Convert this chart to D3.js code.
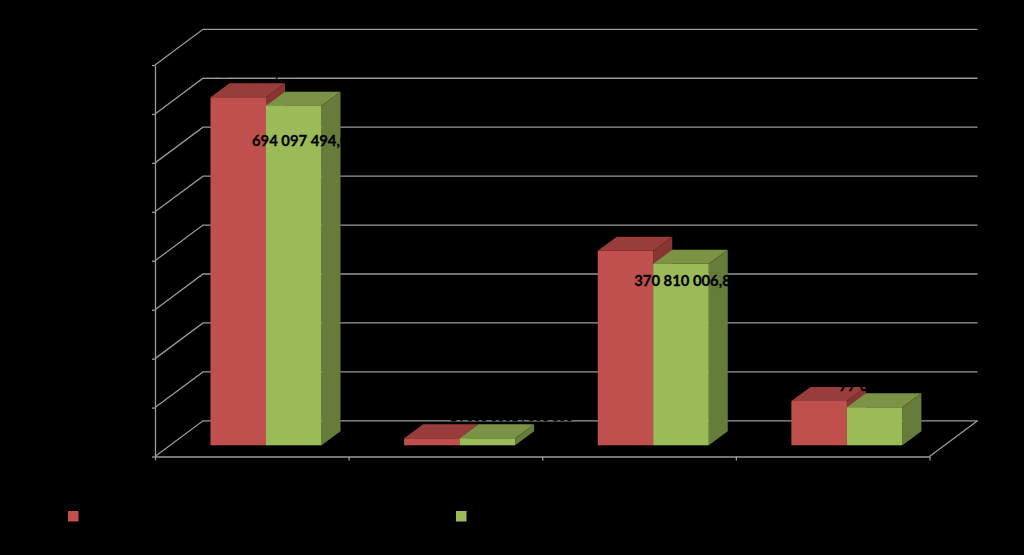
<!DOCTYPE html>
<html>
<head>
<meta charset="utf-8">
<script src="https://cdn.jsdelivr.net/npm/d3@7/dist/d3.min.js"></script>
<style>
html,body{margin:0;padding:0;background:#000;overflow:hidden}
svg{display:block}
text{font-family:Lato,"Liberation Sans",sans-serif;font-weight:700}
</style>
</head>
<body>
<svg id="chart" width="1024" height="555"></svg>
<script>
// Data (category and series names are black on black and cannot be read)
const categories = ["A", "B", "C", "D"];
const seriesKeys = ["red", "green"];
const redValues = [711200000, 14300000, 397600000, 90500000];
const greenValues = [694097494, 14300000, 370810006, 77600000];
const redLabels = ["711 200 000,00", "14 300 000", "397 600 000,00", "90 500 000,00"];
const greenLabels = ["694 097 494,00", "14 300 000", "370 810 006,80", "77 600 000,00"];
const yTicks = [0, 100e6, 200e6, 300e6, 400e6, 500e6, 600e6, 700e6, 800e6];

// Styles and layout
const colors = {
  red: {front: "#c0504d", top: "#983d3b", side: "#873432"},
  green: {front: "#9bbb59", top: "#7a9344", side: "#667c3a"}
};
const gridColor = "#9a9a9a";
const plot = {left: 155, right: 929.5, top: 65, bottom: 456.5};
const wallDepth = {dx: 48, dy: -35.7};
const barDepth = {dx: 19, dy: -14};
const floorLift = 11.2;
const barRange = [55.5, 166.5];
const labelNudge = {
  red: [[-20, -20.5], [45.5, -17.5], [17, -29.5], [8, -35]],
  green: [[-14, 40.4], [51.5, -17.5], [-19, 22], [-8, -16]]
};
const labelSizes = [14.8, 12, 14.8, 14.8];

const svg = d3.select("#chart");
svg.append("rect").attr("width", 1024).attr("height", 555).attr("fill", "#000");

const y = d3.scaleLinear().domain([0, 800e6]).range([plot.bottom, plot.top]);
const x0 = d3.scaleBand().domain(categories).range([plot.left, plot.right]);
const x1 = d3.scaleBand().domain(seriesKeys).range(barRange);
const xEdge = d3.scaleLinear().domain([0, categories.length]).range([plot.left, plot.right]);

// Walls: diagonals and back gridlines
const grid = svg.append("g").attr("fill", "none").attr("stroke", gridColor).attr("stroke-width", 1.3);
grid.selectAll("path.g").data(yTicks).join("path").attr("class", "g")
  .attr("d", t => {
    const p = d3.path();
    p.moveTo(plot.left, y(t));
    p.lineTo(plot.left + wallDepth.dx, y(t) + wallDepth.dy);
    p.lineTo(plot.right + wallDepth.dx, y(t) + wallDepth.dy);
    return p.toString();
  });
grid.append("path").attr("d", () => {
  const p = d3.path();
  p.moveTo(plot.right, y(0));
  p.lineTo(plot.right + wallDepth.dx, y(0) + wallDepth.dy);
  return p.toString();
});

// Axes
const yAxis = d3.axisLeft(y).tickValues(yTicks).tickSize(3).tickSizeOuter(0).tickFormat("");
const xAxis = d3.axisBottom(xEdge).ticks(categories.length).tickSize(4).tickSizeOuter(0).tickFormat("");
const gy = svg.append("g").attr("transform", `translate(${plot.left},0)`).call(yAxis);
const gx = svg.append("g").attr("transform", `translate(0,${plot.bottom})`).call(xAxis);
[gy, gx].forEach(g => {
  g.selectAll("path,line").attr("stroke", gridColor).attr("stroke-width", 1.3);
});

// Bars
const rows = [];
categories.forEach((c, i) => {
  rows.push({cat: c, i, key: "red", value: redValues[i], label: redLabels[i]});
  rows.push({cat: c, i, key: "green", value: greenValues[i], label: greenLabels[i]});
});
const pts = a => a.map(p => p.join(",")).join(" ");
const bars = svg.append("g").selectAll("g").data(rows).join("g");
const geom = d => {
  const xl = x0(d.cat) + x1(d.key);
  const xr = xl + x1.bandwidth();
  const yt = y(d.value) - floorLift;
  const yb = y(0) - floorLift;
  return {xl, xr, yt, yb};
};
bars.append("polygon").attr("fill", d => colors[d.key].top).attr("points", d => {
  const g = geom(d);
  return pts([[g.xl, g.yt], [g.xr, g.yt], [g.xr + barDepth.dx, g.yt + barDepth.dy], [g.xl + barDepth.dx, g.yt + barDepth.dy]]);
});
bars.append("polygon").attr("fill", d => colors[d.key].side).attr("points", d => {
  const g = geom(d);
  return pts([[g.xr, g.yt], [g.xr + barDepth.dx, g.yt + barDepth.dy], [g.xr + barDepth.dx, g.yb + barDepth.dy], [g.xr, g.yb]]);
});
bars.append("rect").attr("fill", d => colors[d.key].front)
  .attr("x", d => geom(d).xl).attr("y", d => geom(d).yt)
  .attr("width", x1.bandwidth()).attr("height", d => geom(d).yb - geom(d).yt);

// Data labels (black, so they only show where they cross a bar or a gridline)
svg.append("g").selectAll("text").data(rows).join("text")
  .attr("x", d => geom(d).xl + labelNudge[d.key][d.i][0])
  .attr("y", d => geom(d).yt + labelNudge[d.key][d.i][1])
  .attr("font-size", d => labelSizes[d.i]).attr("fill", "#000")
  .attr("stroke", "#000").attr("stroke-width", 0.3)
  .text(d => d.label);

// Legend swatches
svg.append("g").selectAll("rect").data(seriesKeys).join("rect")
  .attr("x", (d, i) => [68, 456][i]).attr("y", 511)
  .attr("width", 10.5).attr("height", 10.5)
  .attr("fill", d => colors[d].front);
</script>
</body>
</html>
